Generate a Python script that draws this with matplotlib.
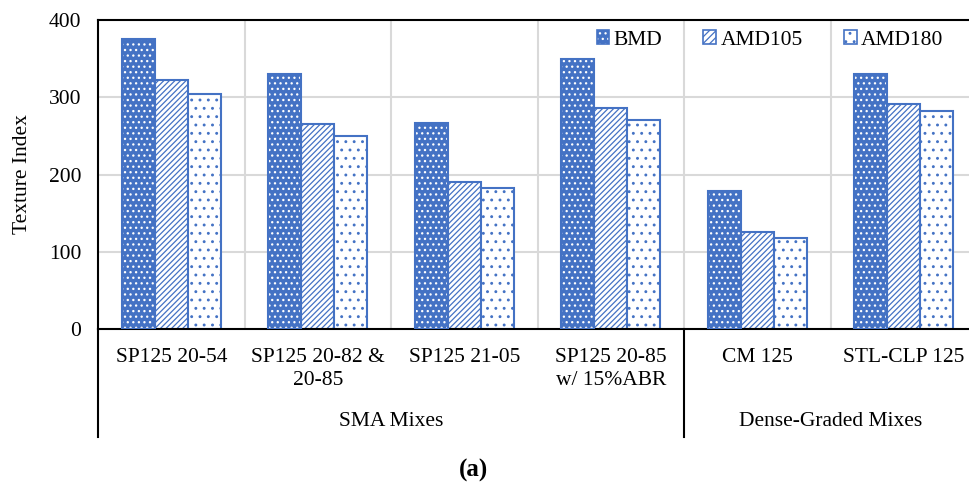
import numpy as np
import matplotlib
matplotlib.use("Agg")
import matplotlib.pyplot as plt
from matplotlib.patches import Patch
from matplotlib.legend_handler import HandlerTuple
from matplotlib.lines import Line2D

# --- data ------------------------------------------------------------------
categories = ["SP125 20-54", "SP125 20-82 &\n20-85", "SP125 21-05",
              "SP125 20-85\nw/ 15%ABR", "CM 125", "STL-CLP 125"]
groups = ["SMA Mixes", "Dense-Graded Mixes"]
group_spans = [(0, 3), (4, 5)]
series = ["BMD", "AMD105", "AMD180"]
bmd = [376, 330, 267, 350, 179, 330]
amd105 = [322, 265, 190, 286, 126, 291]
amd180 = [304, 250, 182, 270, 118, 282]

blue = "#4472C4"
plt.rcParams["font.family"] = ["Liberation Serif", "DejaVu Serif"]
plt.rcParams["hatch.linewidth"] = 0.9
fs = 15.5

fig = plt.figure(figsize=(9.69, 4.95), dpi=100)
ax = fig.add_axes([98 / 969, 1 - 329 / 495, 879 / 969, 309 / 495])

x = np.arange(len(categories))
w = 0.225

# BMD: blue fill with white dots, then a blue outline on top
ax.bar(x - w, bmd, w, color=blue, edgecolor="white", hatch="...", linewidth=0, zorder=2)
ax.bar(x - w, bmd, w, fill=False, edgecolor=blue, linewidth=1.5, zorder=3)
ax.bar(x, amd105, w, color="white", edgecolor=blue, hatch="//////", linewidth=1.5, zorder=2)
ax.bar(x + w, amd180, w, color="white", edgecolor=blue, hatch="..", linewidth=1.5, zorder=2)

ax.set_xlim(-0.5, len(categories) - 0.5)
ax.set_ylim(0, 400)
ax.set_yticks([0, 100, 200, 300, 400])
ax.tick_params(axis="y", length=0, labelsize=fs, pad=12)
ax.set_xticks([])
ax.set_ylabel("Texture Index", fontsize=fs, labelpad=12)

# grid
for yv in [100, 200, 300]:
    ax.axhline(yv, color="#D9D9D9", linewidth=1.5, zorder=0)
for xv in x[1:] - 0.5:
    ax.axvline(xv, color="#D9D9D9", linewidth=1.5, zorder=0)

for s in ax.spines.values():
    s.set_color("black")
    s.set_linewidth(1.5)
ax.spines["right"].set_visible(False)

# category labels and group labels below the axis
tr = ax.get_xaxis_transform()
for xi, lab in zip(x, categories):
    ax.text(xi, -0.062, lab, transform=tr, ha="center", va="top",
            fontsize=fs, linespacing=1.28)
depth = -(437 - 329) / 309
ax.add_line(Line2D([-0.5, -0.5], [0, depth], transform=tr, color="black",
                   linewidth=1.5, clip_on=False))
ax.add_line(Line2D([3.5, 3.5], [0, depth], transform=tr, color="black",
                   linewidth=1.5, clip_on=False))
for (a, b), g in zip(group_spans, groups):
    ax.text((a + b) / 2, -(422 - 329) / 309, g, transform=tr, ha="center",
            va="center", fontsize=fs)

# legend
h_bmd = (Patch(facecolor=blue, edgecolor="white", hatch="...", linewidth=0),
         Patch(fill=False, edgecolor=blue, linewidth=1.2))
h_105 = Patch(facecolor="white", edgecolor=blue, hatch="/////", linewidth=1.2)
h_180 = Patch(facecolor="white", edgecolor=blue, hatch="..", linewidth=1.2)
fig.legend([h_bmd, h_105, h_180], series, handler_map={tuple: HandlerTuple(ndivide=1)},
           loc="center", bbox_to_anchor=(770 / 969, 1 - 40 / 495), ncol=3,
           frameon=False, fontsize=fs, handlelength=0.6, handleheight=0.6,
           handletextpad=0.2, columnspacing=1.9)

fig.text(474 / 969, 1 - 470 / 495, "(a)", ha="center", va="center",
         fontsize=18, fontweight="bold")

fig.savefig("out.png", dpi=100)
